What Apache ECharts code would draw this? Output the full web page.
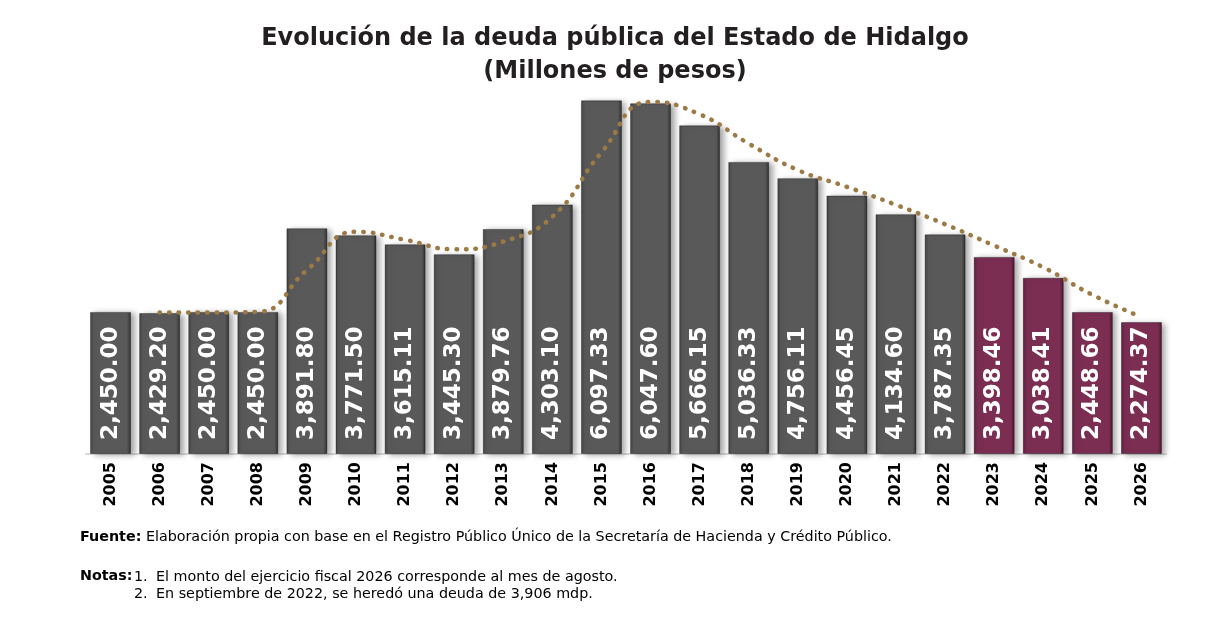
<!DOCTYPE html>
<html>
<head>
<meta charset="utf-8">
<script src="https://cdn.jsdelivr.net/npm/echarts@6/dist/echarts.min.js"></script>
<style>
    html, body {margin: 0; padding: 0; background: #fff;}
    #chart {width: 1230px; height: 624px;}
</style>
</head>
<body>
<div id="chart"></div>
<script>
const years = ['2005', '2006', '2007', '2008', '2009', '2010', '2011', '2012', '2013', '2014', '2015',
    '2016', '2017', '2018', '2019', '2020', '2021', '2022', '2023', '2024', '2025', '2026'];
const debt = [2450.00, 2429.20, 2450.00, 2450.00, 3891.80, 3771.50, 3615.11, 3445.30, 3879.76, 4303.10, 6097.33,
    6047.60, 5666.15, 5036.33, 4756.11, 4456.45, 4134.60, 3787.35, 3398.46, 3038.41, 2448.66, 2274.37];
// dotted trend
const trend = [null, 2440, 2440, 2450, 3171, 3832, 3693, 3530, 3663, 4091, 5200,
    6072, 5857, 5351, 4896, 4606, 4296, 3961, 3593, 3218, 2744, 2362];
const firstPurple = '2023';

const FONT = '"DejaVu Sans", sans-serif';

function bevel(dark, mid, edge) {
    return new echarts.graphic.LinearGradient(0, 0, 1, 0, [
        {offset: 0, color: edge},
        {offset: 0.1, color: mid},
        {offset: 0.9, color: mid},
        {offset: 1, color: dark}
    ]);
}
const greyFill = bevel('#2f2f2f', '#595959', '#444');
const purpleFill = bevel('#4a1530', '#7b2d52', '#5e1f3e');

const fmt = (v) => v.toLocaleString('en-US', {minimumFractionDigits: 2, maximumFractionDigits: 2});

const chart = echarts.init(document.getElementById('chart'));
chart.setOption({
    animation: false,
    title: {
        text: 'Evolución de la deuda pública del Estado de Hidalgo\n(Millones de pesos)',
        left: 'center',
        top: 17,
        textStyle: {fontFamily: FONT, fontSize: 24, fontWeight: 'bold', color: '#231f20', lineHeight: 33}
    },
    grid: {left: 86, right: 64, top: 77, bottom: 170},
    xAxis: {
        type: 'category',
        data: years,
        axisLine: {lineStyle: {color: '#d9d9d9', width: 2}},
        axisTick: {show: false},
        axisLabel: {rotate: 90, fontFamily: FONT, fontSize: 16, fontWeight: 'bold', color: '#000', margin: 8}
    },
    yAxis: {type: 'value', min: 0, max: 6500, show: false, splitLine: {show: false}},
    series: [
        {
            type: 'bar',
            barWidth: 41,
            data: debt.map((v, i) => ({
                value: v,
                itemStyle: {color: years[i] >= firstPurple ? purpleFill : greyFill}
            })),
            itemStyle: {
                borderColor: 'rgba(0,0,0,0.35)',
                borderWidth: 1,
                shadowColor: 'rgba(0,0,0,0.35)',
                shadowBlur: 6,
                shadowOffsetX: 4,
                shadowOffsetY: 1
            },
            label: {
                show: true,
                position: 'insideBottom',
                rotate: 90,
                align: 'left',
                verticalAlign: 'middle',
                distance: 14,
                formatter: (p) => fmt(p.value),
                fontFamily: FONT,
                fontSize: 23,
                fontWeight: 'bold',
                color: '#fff'
            }
        },
        {
            type: 'line',
            data: trend,
            smooth: true,
            symbol: 'none',
            lineStyle: {color: '#9c7a45', width: 4.5, type: [0.5, 9], cap: 'round'},
            z: 5
        }
    ],
    graphic: [
        {
            type: 'text', left: 80, top: 530,
            style: {
                text: '{b|Fuente:} Elaboración propia con base en el Registro Público Único de la Secretaría de Hacienda y Crédito Público.',
                rich: {b: {fontWeight: 'bold', fontFamily: FONT, fontSize: 14.3, fill: '#000'}},
                font: '14.3px ' + FONT, fill: '#000'
            }
        },
        {
            type: 'text', left: 80, top: 569,
            style: {
                text: '{b|Notas:}',
                rich: {b: {fontWeight: 'bold', fontFamily: FONT, fontSize: 14.3, fill: '#000'}},
                font: '14.3px ' + FONT, fill: '#000'
            }
        },
        {
            type: 'text', left: 134, top: 569,
            style: {text: '1.\n2.', font: '14.3px ' + FONT, fill: '#000', lineHeight: 17}
        },
        {
            type: 'text', left: 156, top: 569,
            style: {
                text: 'El monto del ejercicio fiscal 2026 corresponde al mes de agosto.\nEn septiembre de 2022, se heredó una deuda de 3,906 mdp.',
                font: '14.3px ' + FONT, fill: '#000', lineHeight: 17
            }
        }
    ]
});
</script>
</body>
</html>
